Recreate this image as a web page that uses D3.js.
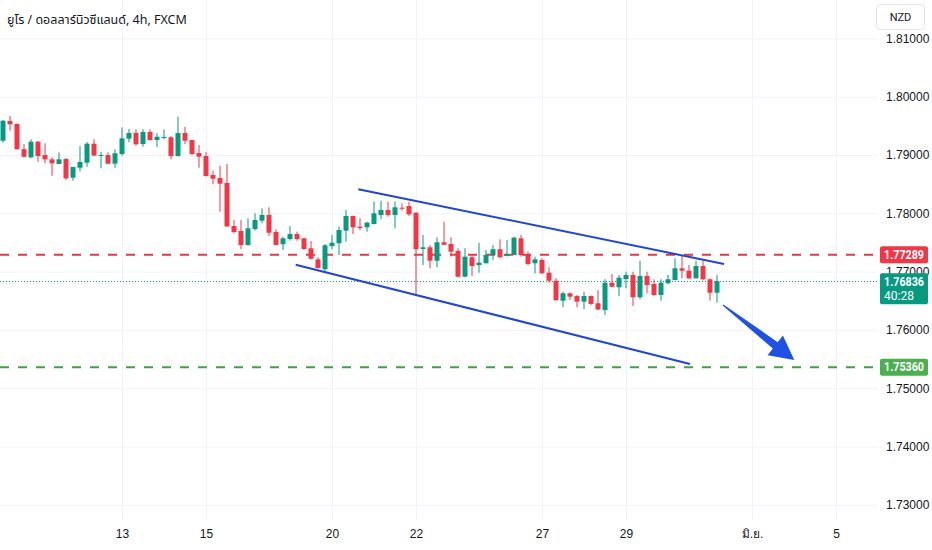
<!DOCTYPE html>
<html>
<head>
<meta charset="utf-8">
<script src="https://cdn.jsdelivr.net/npm/d3@7"></script>
<style>
  body { margin: 0; background: #fff; }
  svg { display: block; font-family: Roboto, "Noto Sans", sans-serif; }
</style>
</head>
<body>
<div id="chart"></div>
<script>
// 4h candles, index 0 = first visible bar (weekends collapsed)
const open = [1.79245,1.79583,1.79532,1.79100,1.78960,1.79228,1.79000,1.78926,1.78846,1.78931,
  1.78611,1.78782,1.78868,1.79194,1.78991,1.79000,1.78851,1.79017,1.79280,1.79377,
  1.79189,1.79394,1.79257,1.79292,1.79304,1.78983,1.79377,1.79257,1.79034,1.78983,
  1.78657,1.78606,1.78520,1.77782,1.77697,1.77456,1.77731,1.77873,1.77971,1.77679,
  1.77469,1.77559,1.77645,1.77571,1.77400,1.77210,1.77040,1.77439,1.77486,1.77702,
  1.77954,1.77770,1.77760,1.77817,1.77971,1.78057,1.77971,1.78096,1.78125,1.78010,
  1.77388,1.77417,1.77187,1.77503,1.77474,1.77354,1.76913,1.77246,1.77113,1.77143,
  1.77285,1.77383,1.77268,1.77285,1.77571,1.77285,1.77143,1.77199,1.76981,1.76844,
  1.76501,1.76628,1.76582,1.76484,1.76582,1.76457,1.76340,1.76810,1.76731,1.76873,
  1.76942,1.76560,1.76925,1.76788,1.76599,1.76800,1.76856,1.77057,1.77016,1.76885,
  1.77096,1.76868,1.76638];
const high = [1.79600,1.79669,1.79540,1.79189,1.79269,1.79240,1.79201,1.78961,1.79046,1.78949,
  1.78800,1.79154,1.79223,1.79269,1.79057,1.79046,1.79098,1.79475,1.79446,1.79441,
  1.79441,1.79441,1.79372,1.79441,1.79326,1.79657,1.79485,1.79260,1.79172,1.79051,
  1.78731,1.78811,1.78846,1.77885,1.77885,1.77914,1.78000,1.78086,1.78103,1.77726,
  1.77599,1.77782,1.77685,1.77580,1.77525,1.77246,1.77474,1.77628,1.77770,1.78057,
  1.77960,1.77914,1.77856,1.78199,1.78216,1.78199,1.78199,1.78172,1.78199,1.78020,
  1.77628,1.77456,1.77589,1.77856,1.77589,1.77400,1.77400,1.77285,1.77496,1.77371,
  1.77456,1.77554,1.77542,1.77599,1.77628,1.77342,1.77256,1.77228,1.77074,1.76885,
  1.76656,1.76640,1.76599,1.76656,1.76590,1.76685,1.76868,1.76959,1.76942,1.76999,
  1.76999,1.77187,1.76999,1.76868,1.76868,1.76942,1.77228,1.77268,1.77113,1.77187,
  1.77187,1.76885,1.76942];
const low = [1.79211,1.79417,1.79090,1.78960,1.78943,1.78885,1.78858,1.78645,1.78840,1.78571,
  1.78559,1.78720,1.78799,1.78985,1.78772,1.78840,1.78782,1.78990,1.79218,1.79159,
  1.79142,1.79245,1.79132,1.79269,1.78926,1.78971,1.79184,1.79000,1.78782,1.78628,
  1.78498,1.78028,1.77770,1.77657,1.77388,1.77445,1.77702,1.77829,1.77611,1.77450,
  1.77371,1.77530,1.77530,1.77371,1.77211,1.77057,1.76999,1.77383,1.77285,1.77513,
  1.77645,1.77714,1.77685,1.77810,1.77897,1.77942,1.77743,1.78045,1.77954,1.76582,
  1.77113,1.77057,1.77074,1.77456,1.77256,1.76903,1.76903,1.76925,1.76981,1.77140,
  1.77199,1.77228,1.77260,1.77280,1.77256,1.77113,1.76971,1.76959,1.76810,1.76501,
  1.76388,1.76513,1.76388,1.76354,1.76427,1.76342,1.76256,1.76731,1.76582,1.76714,
  1.76410,1.76525,1.76628,1.76582,1.76501,1.76788,1.76850,1.76885,1.76880,1.76880,
  1.76850,1.76501,1.76467];
const close = [1.79588,1.79527,1.79100,1.78970,1.79228,1.78983,1.78926,1.78858,1.78926,1.78600,
  1.78794,1.78880,1.79194,1.78990,1.79000,1.78851,1.79029,1.79286,1.79377,1.79184,
  1.79394,1.79257,1.79314,1.79309,1.78983,1.79377,1.79245,1.79017,1.78971,1.78640,
  1.78594,1.78508,1.77775,1.77679,1.77456,1.77743,1.77885,1.77971,1.77667,1.77458,
  1.77571,1.77645,1.77559,1.77388,1.77220,1.77060,1.77451,1.77496,1.77714,1.77954,
  1.77760,1.77748,1.77839,1.78000,1.78057,1.77971,1.78103,1.78086,1.77983,1.77383,
  1.77417,1.77187,1.77503,1.77460,1.77342,1.76913,1.77256,1.77096,1.77153,1.77285,
  1.77383,1.77246,1.77302,1.77582,1.77285,1.77131,1.77211,1.76971,1.76844,1.76510,
  1.76628,1.76570,1.76484,1.76582,1.76445,1.76350,1.76810,1.76740,1.76896,1.76942,
  1.76560,1.76925,1.76770,1.76599,1.76810,1.76868,1.77057,1.77016,1.76885,1.77096,
  1.76868,1.76638,1.76836];

const dayIdx = [17, 29, 47, 59, 77, 89, 107, 119];
const dayLabels = ["13", "15", "20", "22", "27", "29", "มิ.ย.", "5"];
const priceTicks = [1.73, 1.74, 1.75, 1.76, 1.77, 1.78, 1.79, 1.80, 1.81];

const resistance = 1.77289;
const target = 1.75360;
const lastPrice = 1.76836;
const countdown = "40:28";

// channel drawn on the chart: [index, price]
const upperLine = [[50.76, 1.78412], [103.0, 1.77131]];
const lowerLine = [[41.81, 1.77119], [98.14, 1.75416]];
const arrowLine = [[102.86, 1.76428], [113.04, 1.75484]];

const width = 932, height = 550;
const plotW = 878, plotH = 520;
const upColor = "#089981", downColor = "#f23645";

const candles = d3.range(close.length).map(i => ({
  i, o: open[i], h: high[i], l: low[i], c: close[i]
}));

const x = d3.scaleLinear().domain([0, 125]).range([3, 878]);
const y = d3.scaleLinear().domain([1.72739, 1.81659]).range([plotH, 0]);

const svg = d3.select("#chart")
  .append("svg")
  .attr("width", width)
  .attr("height", height);

// price gridlines + labels
const yAxis = svg.append("g")
  .attr("transform", `translate(${plotW},0)`)
  .call(d3.axisRight(y).tickValues(priceTicks).tickFormat(d3.format(".5f"))
    .tickSizeInner(-plotW).tickSizeOuter(0).tickPadding(8));
yAxis.select(".domain").remove();
yAxis.selectAll("line").attr("stroke", "#f0f3fa");
yAxis.selectAll("text").attr("fill", "#131722").attr("font-size", 12);

// date gridlines + labels
const xAxis = svg.append("g")
  .attr("transform", `translate(0,${plotH})`)
  .call(d3.axisBottom(x).tickValues(dayIdx).tickFormat((d, k) => dayLabels[k])
    .tickSizeInner(-plotH).tickSizeOuter(0).tickPadding(9));
xAxis.select(".domain").remove();
xAxis.selectAll("line").attr("stroke", "#f0f3fa");
xAxis.selectAll("text").attr("fill", "#131722").attr("font-size", 12);

// title
svg.append("text")
  .attr("x", 7).attr("y", 24)
  .attr("font-size", 12.5)
  .attr("fill", "#131722")
  .attr("font-family", "'Noto Sans', 'Noto Sans Thai', sans-serif")
  .text("ยูโร / ดอลลาร์นิวซีแลนด์, 4h, FXCM");

// horizontal levels
const levels = svg.append("g");
levels.append("line")
  .attr("x1", 0).attr("x2", plotW)
  .attr("y1", y(resistance)).attr("y2", y(resistance))
  .attr("stroke", "#e0394b").attr("stroke-width", 2)
  .attr("stroke-dasharray", "9,9");
levels.append("line")
  .attr("x1", 0).attr("x2", plotW)
  .attr("y1", y(target)).attr("y2", y(target))
  .attr("stroke", "#43a047").attr("stroke-width", 2)
  .attr("stroke-dasharray", "9,9");
levels.append("line")
  .attr("x1", 0).attr("x2", plotW)
  .attr("y1", Math.round(y(lastPrice)) + 0.5).attr("y2", Math.round(y(lastPrice)) + 0.5)
  .attr("stroke", upColor).attr("stroke-width", 1)
  .attr("stroke-dasharray", "1,2");

// candles
const bars = svg.append("g").selectAll("g")
  .data(candles)
  .join("g")
  .attr("fill", d => d.c >= d.o ? upColor : downColor);

bars.append("rect")
  .attr("x", d => x(d.i) - 0.5)
  .attr("width", 1)
  .attr("y", d => y(d.h))
  .attr("height", d => y(d.l) - y(d.h));

bars.append("rect")
  .attr("x", d => x(d.i) - 2.5)
  .attr("width", 5)
  .attr("y", d => y(Math.max(d.o, d.c)))
  .attr("height", d => Math.max(1, Math.abs(y(d.o) - y(d.c))));

// channel lines
const lineGen = d3.line().x(d => x(d[0])).y(d => y(d[1]));
svg.append("path").attr("d", lineGen(upperLine))
  .attr("fill", "none").attr("stroke", "#2146d4").attr("stroke-width", 2);
svg.append("path").attr("d", lineGen(lowerLine))
  .attr("fill", "none").attr("stroke", "#2146d4").attr("stroke-width", 2);

// arrow
{
  const tx = x(arrowLine[0][0]), ty = y(arrowLine[0][1]);
  const px = x(arrowLine[1][0]), py = y(arrowLine[1][1]);
  const len = Math.hypot(px - tx, py - ty);
  const ux = (px - tx) / len, uy = (py - ty) / len;
  const nx = -uy, ny = ux;
  const bx = px - ux * 24, by = py - uy * 24;
  const pts = [
    [tx + nx * 0.6, ty + ny * 0.6],
    [bx + nx * 4, by + ny * 4],
    [bx + nx * 12.5, by + ny * 12.5],
    [px, py],
    [bx - nx * 12.5, by - ny * 12.5],
    [bx - nx * 4, by - ny * 4],
    [tx - nx * 0.6, ty - ny * 0.6]
  ];
  svg.append("polygon")
    .attr("points", pts.map(p => p.join(",")).join(" "))
    .attr("fill", "#1f51e4");
}

// price tags on the scale
function tag(v, color, lines) {
  const h = lines.length === 1 ? 17 : 31;
  const top = lines.length === 1 ? y(v) - h / 2 : y(v) - 8;
  const g = svg.append("g");
  g.append("rect")
    .attr("x", 880).attr("y", top)
    .attr("width", 48).attr("height", h)
    .attr("rx", 2)
    .attr("fill", color);
  lines.forEach((t, k) => {
    const txt = g.append("text")
      .attr("x", 884).attr("y", top + 12.5 + k * 14)
      .attr("font-size", 12)
      .attr("font-weight", k === 0 ? "bold" : "normal")
      .attr("fill", "#fff")
      .text(t);
    if (k === 0) txt.attr("textLength", 40).attr("lengthAdjust", "spacingAndGlyphs");
  });
}
tag(resistance, "#f23645", [d3.format(".5f")(resistance)]);
tag(lastPrice, upColor, [d3.format(".5f")(lastPrice), countdown]);
tag(target, "#4caf50", [d3.format(".5f")(target)]);

// currency box
svg.append("rect")
  .attr("x", 876.5).attr("y", 4.5)
  .attr("width", 48).attr("height", 25)
  .attr("rx", 4)
  .attr("fill", "#fff").attr("stroke", "#e0e3eb");
svg.append("text")
  .attr("x", 900.5).attr("y", 21)
  .attr("text-anchor", "middle")
  .attr("font-size", 11)
  .attr("fill", "#131722")
  .text("NZD");
</script>
</body>
</html>
